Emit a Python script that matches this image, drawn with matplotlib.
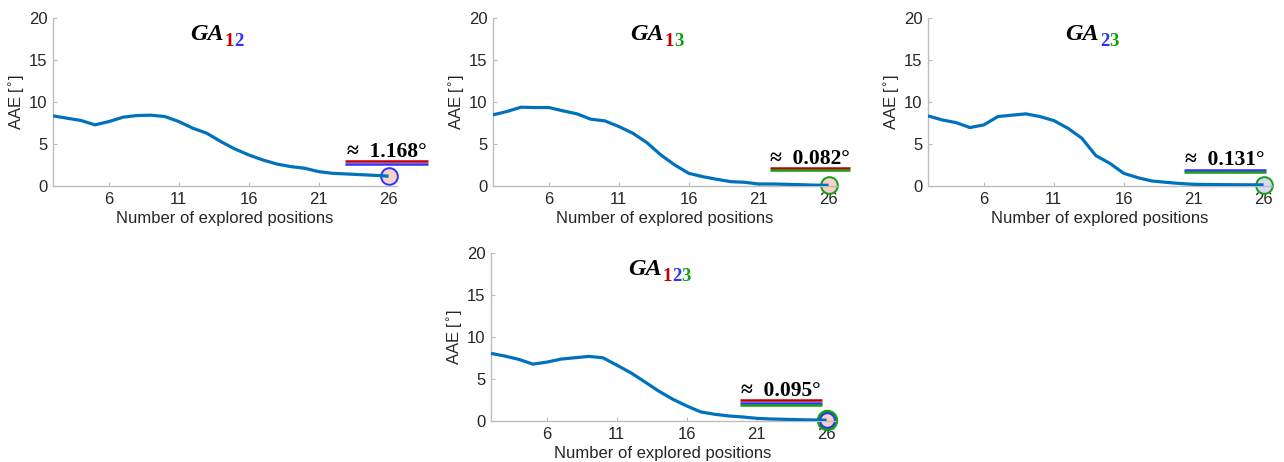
import matplotlib
matplotlib.use("Agg")
import matplotlib.pyplot as plt

# -----------------------------
# Data
# -----------------------------
positions = list(range(2, 27))

aae_12 = [8.35, 8.07, 7.8, 7.28, 7.67, 8.19, 8.39, 8.43, 8.27, 7.67, 6.88, 6.28,
          5.29, 4.41, 3.70, 3.10, 2.62, 2.31, 2.11, 1.71, 1.51, 1.43, 1.35, 1.27, 1.168]
aae_13 = [8.47, 8.87, 9.38, 9.34, 9.34, 8.95, 8.59, 7.95, 7.75, 7.08, 6.28, 5.17,
          3.70, 2.50, 1.51, 1.11, 0.80, 0.52, 0.44, 0.24, 0.24, 0.20, 0.16, 0.10, 0.082]
aae_23 = [8.35, 7.87, 7.55, 6.96, 7.28, 8.27, 8.43, 8.59, 8.27, 7.79, 6.88, 5.69,
          3.62, 2.70, 1.51, 0.99, 0.60, 0.44, 0.30, 0.20, 0.18, 0.16, 0.15, 0.14, 0.131]
aae_123 = [8.05, 7.73, 7.33, 6.77, 7.01, 7.37, 7.53, 7.69, 7.53, 6.65, 5.74, 4.66,
           3.55, 2.59, 1.79, 1.08, 0.80, 0.60, 0.48, 0.32, 0.24, 0.20, 0.16, 0.12, 0.095]

final_labels = ["1.168", "0.082", "0.131", "0.095"]
subscripts = ["12", "13", "23", "123"]

# -----------------------------
# Styling
# -----------------------------
LINE_COLOR = "#0072BD"
AXIS_COLOR = "#bdbdbd"
TEXT_COLOR = "#262626"
DIGIT_COLORS = {"1": "#c00000", "2": "#3030ff", "3": "#10a010"}
FACE_COLORS = {"12": "#f6d2c8", "13": "#f6d2c8", "23": "#d8d8f4", "123": "#f6d2c8"}
SERIF = ["Liberation Serif", "DejaVu Serif"]
FS = 12

plt.rcParams["font.family"] = ["Liberation Sans", "DejaVu Sans"]

fig = plt.figure(figsize=(12.84, 4.62), dpi=100)

W, H = 1284, 462
panels = [
    # left px, y=0 line px, data, subscript, underline x-range, underline y
    (53, 186, aae_12, "12", (22.9, 28.8), 2.95),
    (493, 186, aae_13, "13", (21.8, 27.5), 2.15),
    (928, 186, aae_23, "23", (20.3, 26.2), 1.95),
    (491, 421, aae_123, "123", (19.8, 25.7), 2.45),
]

for (left, base, values, sub, (lx0, lx1), ly), final in zip(panels, final_labels):
    ax = fig.add_axes([left / W, (H - base) / H, 344 / W, 168 / H])
    ax.plot(positions, values, color=LINE_COLOR, lw=2.3, zorder=3,
            solid_capstyle="butt")

    # circle at the last explored position
    colors = [DIGIT_COLORS[c] for c in sub]
    if sub == "123":
        ax.plot(26, values[-1], "o", ms=13, mfc=FACE_COLORS[sub],
                mec=DIGIT_COLORS["3"], mew=2.4, zorder=2, clip_on=False)
        ax.plot(26, values[-1], "o", ms=10.5, mfc="none",
                mec=DIGIT_COLORS["2"], mew=1.4, zorder=2, clip_on=False)
    else:
        ax.plot(26, values[-1], "o", ms=12, mfc=FACE_COLORS[sub],
                mec=colors[-1], mew=1.4, zorder=2, clip_on=False)

    # stacked coloured underline + value
    step = 0.3
    for i, c in enumerate(colors):
        ax.plot([lx0, lx1], [ly - i * step] * 2, color=c, lw=1.8,
                solid_capstyle="butt", clip_on=False, zorder=4)
    ax.text((lx0 + lx1) / 2, ly + 0.5, "\u2248  " + final + "\u00b0",
            ha="center", va="baseline", fontsize=15.5, fontweight="bold",
            family=SERIF, color="black", clip_on=False)

    # title GA with coloured subscripts
    t = ax.text(0.40, 0.87, "GA", transform=ax.transAxes, ha="left",
                va="baseline", fontsize=17.5, fontweight="bold",
                fontstyle="italic", family=SERIF, color="black")
    prev = t
    for j, d in enumerate(sub):
        prev = ax.annotate(d, xy=(1, 0), xycoords=prev,
                           xytext=(0.5 if j == 0 else 0, -3.5 if j == 0 else 0),
                           textcoords="offset points", ha="left", va="bottom",
                           fontsize=13.5, fontweight="bold", family=SERIF,
                           color=DIGIT_COLORS[d])

    ax.set_xlim(2, 26.6)
    ax.set_ylim(0, 20)
    ax.set_xticks([6, 11, 16, 21, 26])
    ax.set_yticks([0, 5, 10, 15, 20])
    for s in ["top", "right"]:
        ax.spines[s].set_visible(False)
    for s in ["left", "bottom"]:
        ax.spines[s].set_color(AXIS_COLOR)
        ax.spines[s].set_linewidth(1.0)
    ax.tick_params(direction="in", length=3, width=0.8, color=AXIS_COLOR,
                   labelcolor=TEXT_COLOR, labelsize=FS, pad=4)
    ax.set_xlabel("Number of explored positions", fontsize=FS,
                  color=TEXT_COLOR, labelpad=3)
    ax.set_ylabel("AAE [$^{\\circ}$]", fontsize=FS, color=TEXT_COLOR,
                  labelpad=1.5)
    ax.patch.set_alpha(0)

fig.savefig("out.png", dpi=100)
